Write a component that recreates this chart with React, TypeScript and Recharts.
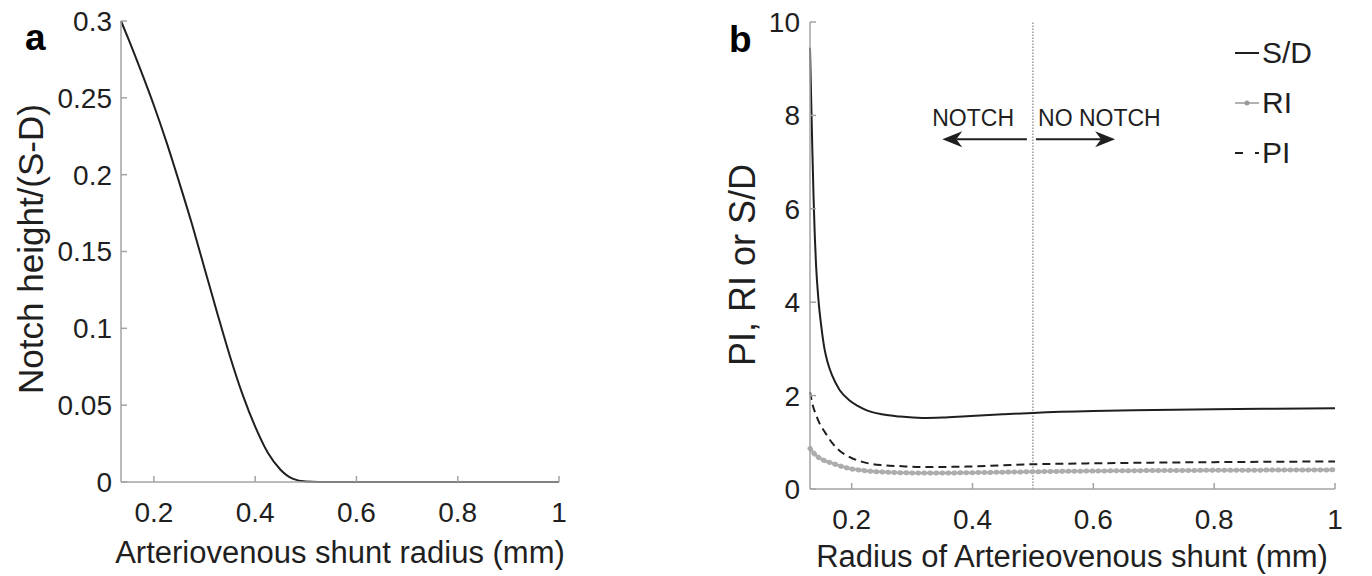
import { LineChart, Line, XAxis, YAxis, ReferenceLine, ReferenceDot, Legend } from "recharts";

const FONT = '"Liberation Sans", Arial, Helvetica, sans-serif';
const INK = "#1f1f1f";
const FRAME = "#a3a3a3";

// panel a: notch height vs shunt radius
const notchRadius = [0.135, 0.15, 0.175, 0.2, 0.225, 0.25, 0.275, 0.3, 0.325, 0.35, 0.375, 0.4, 0.425, 0.45, 0.475, 0.5, 0.525, 0.55, 0.6, 0.7, 0.8, 0.9, 1.0];
const notchHeight = [0.3, 0.288, 0.267, 0.245, 0.221, 0.195, 0.168, 0.139, 0.11, 0.082, 0.057, 0.036, 0.019, 0.008, 0.002, 0.0003, 0, 0, 0, 0, 0, 0, 0];
const notchTicks = [0, 0.05, 0.1, 0.15, 0.2, 0.25, 0.3];

// panel b: indices vs shunt radius
const sdRadius = [0.131, 0.133, 0.135, 0.137, 0.139, 0.141, 0.145, 0.15, 0.155, 0.16, 0.168, 0.18, 0.196, 0.21, 0.224, 0.25, 0.28, 0.317, 0.35, 0.39, 0.45, 0.5, 0.6, 0.7, 0.8, 0.9, 1.0];
const sdValue = [9.45, 8.3, 7.2, 6.2, 5.4, 4.8, 4.05, 3.45, 3.0, 2.72, 2.42, 2.12, 1.9, 1.78, 1.69, 1.6, 1.55, 1.52, 1.53, 1.56, 1.6, 1.63, 1.67, 1.69, 1.71, 1.72, 1.73];
const riRadius = [0.131, 0.14, 0.15, 0.168, 0.196, 0.224, 0.279, 0.333, 0.4, 0.5, 0.6, 0.7, 0.8, 0.9, 1.0];
const riValue = [0.87, 0.73, 0.64, 0.55, 0.44, 0.39, 0.35, 0.34, 0.35, 0.37, 0.385, 0.395, 0.4, 0.405, 0.41];
const piRadius = [0.131, 0.135, 0.14, 0.147, 0.155, 0.168, 0.18, 0.196, 0.224, 0.25, 0.279, 0.317, 0.39, 0.5, 0.6, 0.7, 0.8, 0.9, 1.0];
const piValue = [2.08, 1.82, 1.62, 1.4, 1.23, 0.98, 0.82, 0.69, 0.56, 0.51, 0.49, 0.47, 0.48, 0.53, 0.55, 0.565, 0.575, 0.583, 0.59];
const indexTicks = [0, 2, 4, 6, 8, 10];

const radiusTicks = [0.2, 0.4, 0.6, 0.8, 1];

const notchData = notchRadius.map((r, i) => ({ r, v: notchHeight[i] }));
const sdData = sdRadius.map((r, i) => ({ r, v: sdValue[i] }));
const riData = riRadius.map((r, i) => ({ r, v: riValue[i] }));
const piData = piRadius.map((r, i) => ({ r, v: piValue[i] }));

const fmt = (v: number) => String(+v.toFixed(2));

const tickStyle = { fill: INK, fontSize: 28, fontFamily: FONT };
const axisLine = { stroke: FRAME, strokeWidth: 1.5 };

function Arrow(props: any) {
  const { x1, y1, x2, y2 } = props;
  const dir = Math.sign(x2 - x1);
  const tip = x2;
  const back = x2 - dir * 20;
  const notch = x2 - dir * 14;
  return (
    <g>
      <line x1={x1} y1={y1} x2={notch} y2={y2} stroke={INK} strokeWidth={2} />
      <polygon points={`${tip},${y2} ${back},${y2 - 8} ${notch},${y2} ${back},${y2 + 8}`} fill={INK} />
    </g>
  );
}

function LegendBox() {
  const rows = [
    { name: "S/D", kind: "solid" },
    { name: "RI", kind: "marker" },
    { name: "PI", kind: "dash" },
  ];
  return (
    <div style={{ fontFamily: FONT, fontSize: 30, color: INK }}>
      {rows.map((row) => (
        <div key={row.name} style={{ display: "flex", alignItems: "center", height: 50 }}>
          <svg width={24} height={12}>
            {row.kind === "solid" && <line x1={0} y1={6} x2={24} y2={6} stroke={INK} strokeWidth={2} />}
            {row.kind === "marker" && (
              <g>
                <line x1={0} y1={6} x2={24} y2={6} stroke="#999" strokeWidth={1.5} />
                <circle cx={12} cy={6} r={2.5} fill="#999" />
              </g>
            )}
            {row.kind === "dash" && <line x1={0} y1={6} x2={24} y2={6} stroke={INK} strokeWidth={2} strokeDasharray="8 12" />}
          </svg>
          <span style={{ marginLeft: 3 }}>{row.name}</span>
        </div>
      ))}
    </div>
  );
}

function NotchChart() {
  return (
    <LineChart width={600} height={576} margin={{ top: 21, right: 41, bottom: 0, left: 0 }}>
      <XAxis
        xAxisId="b"
        dataKey="r"
        type="number"
        domain={[0.135, 1]}
        ticks={radiusTicks}
        interval={0}
        tickFormatter={fmt}
        tick={tickStyle}
        tickSize={-6}
        tickMargin={26}
        tickLine={axisLine}
        axisLine={axisLine}
        height={94}
        label={{
          content: () => (
            <text x={340} y={563} textAnchor="middle" fontSize={31} fontFamily={FONT} fill={INK}>
              Arteriovenous shunt radius (mm)
            </text>
          ),
        }}
      />
      <XAxis xAxisId="t" orientation="top" type="number" domain={[0.135, 1]} ticks={radiusTicks} interval={0} tick={false} tickSize={-6} tickLine={axisLine} axisLine={axisLine} height={0} />
      <YAxis
        yAxisId="l"
        type="number"
        domain={[0, 0.3]}
        ticks={notchTicks}
        interval={0}
        tickFormatter={fmt}
        tick={tickStyle}
        tickSize={-6}
        tickMargin={15}
        tickLine={axisLine}
        axisLine={axisLine}
        width={121}
        label={{
          content: () => (
            <text x={43} y={249} transform="rotate(-90 43 249)" textAnchor="middle" fontSize={35} fontFamily={FONT} fill={INK}>
              Notch height/(S-D)
            </text>
          ),
        }}
      />
      <YAxis yAxisId="r" orientation="right" type="number" domain={[0, 0.3]} ticks={notchTicks} interval={0} tick={false} tickSize={-6} tickLine={axisLine} axisLine={axisLine} width={0} />
      <Line xAxisId="b" yAxisId="l" data={notchData} dataKey="v" type="monotone" stroke={INK} strokeWidth={2} dot={false} activeDot={false} isAnimationActive={false} />
    </LineChart>
  );
}

function IndexChart() {
  return (
    <LineChart width={672} height={576} margin={{ top: 22, right: 37, bottom: 0, left: 0 }}>
      <XAxis
        xAxisId="b"
        dataKey="r"
        type="number"
        domain={[0.131, 1]}
        ticks={radiusTicks}
        interval={0}
        tickFormatter={fmt}
        tick={tickStyle}
        tickSize={-6}
        tickMargin={26}
        tickLine={axisLine}
        axisLine={axisLine}
        height={87}
        label={{
          content: () => (
            <text x={372} y={567} textAnchor="middle" fontSize={31} fontFamily={FONT} fill={INK}>
              Radius of Arterieovenous shunt (mm)
            </text>
          ),
        }}
      />
      <XAxis xAxisId="t" orientation="top" type="number" domain={[0.131, 1]} ticks={radiusTicks} interval={0} tick={false} tickSize={-6} tickLine={axisLine} axisLine={axisLine} height={0} />
      <YAxis
        yAxisId="l"
        type="number"
        domain={[0, 10]}
        ticks={indexTicks}
        interval={0}
        tick={tickStyle}
        tickSize={-6}
        tickMargin={16}
        tickLine={axisLine}
        axisLine={axisLine}
        width={110}
        label={{
          content: () => (
            <text x={55} y={265} transform="rotate(-90 55 265)" textAnchor="middle" fontSize={36} fontFamily={FONT} fill={INK}>
              PI, RI or S/D
            </text>
          ),
        }}
      />
      <YAxis yAxisId="r" orientation="right" type="number" domain={[0, 10]} ticks={indexTicks} interval={0} tick={false} tickSize={-6} tickLine={axisLine} axisLine={axisLine} width={0} />
      <ReferenceLine xAxisId="b" yAxisId="l" x={0.5} stroke="#666" strokeWidth={1} strokeDasharray="1.5 1.5" />
      <ReferenceLine xAxisId="b" yAxisId="l" segment={[{ x: 0.49, y: 7.49 }, { x: 0.35, y: 7.49 }]} shape={Arrow} />
      <ReferenceLine xAxisId="b" yAxisId="l" segment={[{ x: 0.505, y: 7.49 }, { x: 0.636, y: 7.49 }]} shape={Arrow} />
      <ReferenceDot xAxisId="b" yAxisId="l" x={0.401} y={7.94} r={0} fill="none" stroke="none"
        label={{ value: "NOTCH", position: "center", fontSize: 23, fontFamily: FONT, fill: INK }} />
      <ReferenceDot xAxisId="b" yAxisId="l" x={0.61} y={7.94} r={0} fill="none" stroke="none"
        label={{ value: "NO NOTCH", position: "center", fontSize: 23, fontFamily: FONT, fill: INK }} />
      <Line xAxisId="b" yAxisId="l" data={riData} dataKey="v" name="RI" type="monotone" stroke="#9a9a9a" strokeWidth={2} dot={false} activeDot={false} isAnimationActive={false} />
      <Line xAxisId="b" yAxisId="l" data={riData} dataKey="v" name="RI markers" type="monotone" stroke="#adadad" strokeWidth={5} strokeDasharray="1 5" strokeLinecap="round" dot={false} activeDot={false} legendType="none" isAnimationActive={false} />
      <Line xAxisId="b" yAxisId="l" data={piData} dataKey="v" name="PI" type="monotone" stroke={INK} strokeWidth={2} strokeDasharray="8 5" dot={false} activeDot={false} isAnimationActive={false} />
      <Line xAxisId="b" yAxisId="l" data={sdData} dataKey="v" name="S/D" type="monotone" stroke={INK} strokeWidth={2} dot={false} activeDot={false} isAnimationActive={false} />
      <Legend layout="vertical" align="center" verticalAlign="middle" content={<LegendBox />} wrapperStyle={{ left: 535, top: 28, width: "auto", height: "auto" }} />
    </LineChart>
  );
}

export default function App() {
  return (
    <div style={{ position: "absolute", left: 0, top: 0, width: 1372, height: 576, background: "#fff", fontFamily: FONT }}>
      <div style={{ position: "absolute", left: 0, top: 0 }}>
        <NotchChart />
      </div>
      <div style={{ position: "absolute", left: 700, top: 0 }}>
        <IndexChart />
      </div>
      <svg width={1372} height={576} style={{ position: "absolute", left: 0, top: 0, pointerEvents: "none" }}>
        <text x={25} y={50} fontSize={37} fontWeight="bold" fontFamily={FONT} fill="#000">a</text>
        <text x={729} y={52} fontSize={37} fontWeight="bold" fontFamily={FONT} fill="#000">b</text>
      </svg>
    </div>
  );
}
